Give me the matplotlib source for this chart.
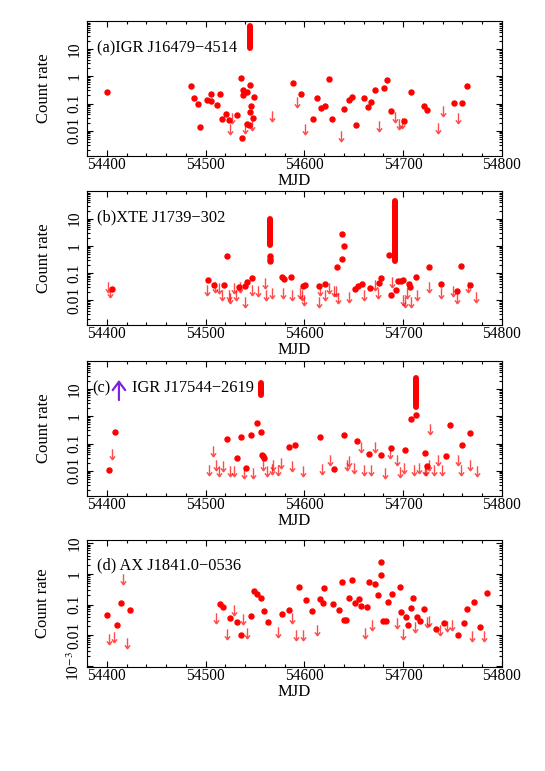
import matplotlib
matplotlib.use('Agg')
import matplotlib.pyplot as plt
from matplotlib.path import Path
from matplotlib.ticker import FixedLocator, LogLocator, NullFormatter, MultipleLocator

plt.rcParams['font.family'] = ['Liberation Serif', 'DejaVu Serif']
plt.rcParams['mathtext.fontset'] = 'stix'

# ---- panel (a) IGR J16479-4514 ----
a_det_x = [54400, 54485.3, 54488.4, 54492, 54494.8, 54501.5, 54506, 54506, 54511.6, 54514.7,
           54516.4, 54520.4, 54523.4, 54531.5, 54536, 54538, 54538.3, 54541.7, 54537, 54542.3,
           54544, 54545, 54545, 54546.4, 54548.4, 54549.4, 54588.9, 54596.3, 54608.8, 54612.8,
           54616.9, 54620.9, 54624.6, 54628.3, 54640.1, 54644.9, 54648.2, 54652.6, 54660.4, 54664.4,
           54667.8, 54671.8, 54680.3, 54684, 54687.7, 54700.5, 54707.6, 54720.7, 54724.1, 54751.4,
           54759.9, 54764.2]
a_det_y = [0.27, 0.42, 0.16, 0.094, 0.014, 0.13, 0.22, 0.12, 0.086, 0.22,
           0.027, 0.040, 0.024, 0.039, 0.84, 0.32, 0.20, 0.27, 0.0056, 0.018,
           0.017, 0.49, 0.049, 0.079, 0.030, 0.18, 0.57, 0.22, 0.028, 0.16,
           0.071, 0.079, 0.80, 0.027, 0.063, 0.14, 0.18, 0.017, 0.16, 0.075,
           0.11, 0.32, 0.38, 0.71, 0.055, 0.023, 0.27, 0.081, 0.060, 0.105,
           0.105, 0.44]
a_ul_x = [54527, 54525, 54540.3, 54547, 54567, 54593, 54600.7, 54636.8, 54675.9, 54692,
          54696, 54698.8, 54735.6, 54740.6, 54755.8]
a_ul_y = [0.030, 0.012, 0.013, 0.017, 0.036, 0.11, 0.012, 0.0066, 0.015, 0.033,
          0.018, 0.019, 0.013, 0.052, 0.030]
a_flare_x = [54545]
a_flare_lo = [11]
a_flare_hi = [70]

# ---- panel (b) XTE J1739-302 ----
b_det_x = [54405.7, 54502.9, 54508.3, 54518.4, 54522.1, 54533.6, 54540, 54542, 54546.7, 54564.9,
           54564.9, 54564.9, 54577.4, 54579.1, 54586.2, 54599, 54600.7, 54614.5, 54621.2, 54632.7,
           54638.4, 54638.4, 54640.5, 54651.6, 54654.6, 54658.3, 54666.4, 54675.2, 54677.6, 54686,
           54687.7, 54692.7, 54694.4, 54697.5, 54700.2, 54705.6, 54706.9, 54713.3, 54725.8, 54738.6,
           54754.5, 54758.5, 54767.3]
b_det_y = [0.025, 0.055, 0.036, 0.036, 0.43, 0.030, 0.032, 0.046, 0.065, 0.43,
           0.32, 0.28, 0.069, 0.061, 0.071, 0.034, 0.037, 0.033, 0.039, 0.16,
           0.32, 2.8, 0.97, 0.025, 0.034, 0.040, 0.027, 0.044, 0.065, 0.44,
           0.015, 0.023, 0.052, 0.052, 0.055, 0.039, 0.029, 0.073, 0.17, 0.039,
           0.021, 0.18, 0.035]
b_ul_x = [54401, 54403.4, 54501.2, 54509.6, 54514, 54516.7, 54523.4, 54524.8, 54528.5, 54531.2,
          54535.2, 54540.3, 54547, 54552.8, 54559.9, 54561.6, 54567.7, 54578.8, 54587.9, 54596,
          54598, 54599.3, 54614.5, 54616.2, 54620.6, 54625, 54630.4, 54632.4, 54634.4, 54645.5,
          54660.1, 54671.8, 54674.5, 54688.7, 54699.5, 54701.5, 54704.2, 54707.6, 54713.6, 54726.1,
          54737.9, 54750, 54754.8, 54765.9, 54774]
b_ul_y = [0.031, 0.020, 0.024, 0.031, 0.027, 0.015, 0.015, 0.012, 0.027, 0.015,
          0.030, 0.0088, 0.024, 0.022, 0.041, 0.015, 0.018, 0.018, 0.015, 0.018,
          0.015, 0.010, 0.0083, 0.024, 0.015, 0.027, 0.022, 0.021, 0.012, 0.013,
          0.015, 0.036, 0.018, 0.045, 0.010, 0.0083, 0.018, 0.0088, 0.015, 0.031,
          0.018, 0.022, 0.012, 0.031, 0.013]
b_flare_x = [54564.9, 54692.1]
b_flare_lo = [1.1, 0.27]
b_flare_hi = [10, 45]

# ---- panel (c) IGR J17544-2619 ----
c_det_x = [54402.4, 54408.8, 54521.4, 54531.5, 54535.9, 54541, 54545.7, 54552.1, 54556.5, 54556.8,
           54558.2, 54559.2, 54584.5, 54590.9, 54615.9, 54630, 54639.8, 54653.6, 54665.1, 54677.9,
           54687.7, 54702.2, 54707.6, 54713, 54722.1, 54723.8, 54743, 54747.1, 54759.5, 54767.3]
c_det_y = [0.011, 0.27, 0.15, 0.029, 0.17, 0.013, 0.20, 0.55, 0.27, 0.037,
           0.035, 0.030, 0.074, 0.085, 0.17, 0.012, 0.21, 0.12, 0.040, 0.039,
           0.069, 0.059, 0.80, 1.15, 0.046, 0.015, 0.036, 0.46, 0.085, 0.25]
c_ul_x = [54405, 54503.9, 54507.3, 54510.7, 54513.4, 54518.1, 54524.8, 54528.5, 54538.6, 54548.4,
          54558.5, 54562.6, 54567, 54568.7, 54573.7, 54576.7, 54587.9, 54598.3, 54618.2, 54625.9,
          54642.8, 54645.5, 54650.2, 54657.7, 54660.4, 54667.5, 54671.2, 54682, 54686.7, 54694.1,
          54696.8, 54700.8, 54710.9, 54715.7, 54721.8, 54723.4, 54726.1, 54727.2, 54731.3, 54735.6,
          54739.6, 54755.5, 54758.9, 54767.6, 54774.4]
c_ul_y = [0.043, 0.011, 0.052, 0.017, 0.0098, 0.015, 0.0098, 0.0098, 0.0085, 0.0085,
          0.017, 0.0098, 0.012, 0.016, 0.011, 0.020, 0.015, 0.0098, 0.012, 0.025,
          0.017, 0.023, 0.013, 0.075, 0.011, 0.011, 0.075, 0.0085, 0.046, 0.025,
          0.009, 0.013, 0.011, 0.013, 0.011, 0.011, 0.017, 0.35, 0.011, 0.025,
          0.011, 0.025, 0.011, 0.017, 0.0098]
c_flare_x = [54556.5, 54713]
c_flare_lo = [6.2, 2.2]
c_flare_hi = [17, 25]

# ---- panel (d) AX J1841.0-0536 ----
d_det_x = [54400, 54410.1, 54414.2, 54423.6, 54514.3, 54517.7, 54524.5, 54531.9, 54535.9, 54546,
           54549.1, 54552.1, 54556.2, 54559.5, 54563.6, 54577.4, 54584.5, 54594.3, 54601.7, 54608.1,
           54615.5, 54618.9, 54619.6, 54628.7, 54635.4, 54638.4, 54640.1, 54641.8, 54645.2, 54647.9,
           54651.6, 54655, 54657.7, 54663.1, 54665.8, 54671.8, 54674.9, 54677.2, 54677.2, 54679.3,
           54682.3, 54684.6, 54689, 54696.5, 54697.8, 54703.2, 54705.2, 54707.6, 54709.6, 54714,
           54716.7, 54721.1, 54733.2, 54741.3, 54755.5, 54761.6, 54764.6, 54771.7, 54777.7, 54785.2]
d_det_y = [0.047, 0.022, 0.11, 0.065, 0.105, 0.084, 0.037, 0.026, 0.010, 0.041,
           0.28, 0.22, 0.16, 0.063, 0.027, 0.049, 0.065, 0.38, 0.14, 0.063,
           0.15, 0.11, 0.35, 0.105, 0.067, 0.56, 0.031, 0.031, 0.17, 0.65,
           0.11, 0.15, 0.093, 0.080, 0.53, 0.48, 0.20, 0.93, 2.4, 0.028,
           0.028, 0.12, 0.22, 0.38, 0.057, 0.039, 0.021, 0.078, 0.16, 0.038,
           0.029, 0.070, 0.016, 0.024, 0.0098, 0.024, 0.070, 0.12, 0.018, 0.23]
d_ul_x = [54402.7, 54407.4, 54416.9, 54421, 54510.6, 54522.1, 54528.5, 54537.9, 54542.3, 54573.7,
          54587.9, 54591.6, 54598.3, 54612.8, 54661.4, 54668.5, 54693.8, 54700.2, 54712, 54724.1,
          54725.8, 54737.3, 54744.7, 54749.4, 54769.6, 54781.8]
d_ul_y = [0.0072, 0.0085, 0.69, 0.0053, 0.037, 0.011, 0.065, 0.033, 0.012, 0.013,
          0.037, 0.010, 0.0098, 0.015, 0.012, 0.021, 0.025, 0.011, 0.018, 0.026,
          0.029, 0.015, 0.020, 0.022, 0.0093, 0.0093]

labels = ['(a)IGR J16479\u22124514', '(b)XTE J1739\u2212302', 'IGR J17544\u22122619',
          '(d) AX J1841.0\u22120536']

# down-arrow marker for upper limits
arrow = Path([(0, 1), (0, -1), (-0.5, -0.35), (0, -1), (0.5, -0.35)],
             [Path.MOVETO, Path.LINETO, Path.MOVETO, Path.LINETO, Path.LINETO])

fig = plt.figure(figsize=(5.45, 7.71), dpi=100)
boxes = [[0.1596, 0.7977, 0.7615, 0.1751],
         [0.1596, 0.5785, 0.7615, 0.1738],
         [0.1596, 0.3567, 0.7615, 0.1751],
         [0.1596, 0.1349, 0.7615, 0.1647]]

panels = [(a_det_x, a_det_y, a_ul_x, a_ul_y, a_flare_x, a_flare_lo, a_flare_hi),
          (b_det_x, b_det_y, b_ul_x, b_ul_y, b_flare_x, b_flare_lo, b_flare_hi),
          (c_det_x, c_det_y, c_ul_x, c_ul_y, c_flare_x, c_flare_lo, c_flare_hi),
          (d_det_x, d_det_y, d_ul_x, d_ul_y, [], [], [])]

for i, (dx, dy, ux, uy, fx, flo, fhi) in enumerate(panels):
    ax = fig.add_axes(boxes[i])
    ax.set_yscale('log')
    for x, lo, hi in zip(fx, flo, fhi):
        ax.plot([x, x], [lo, hi], color='red', lw=4.3, solid_capstyle='round')
    ax.plot(ux, uy, ls='none', marker=arrow, ms=7.5, mfc='none', mec='red', mew=1.0, alpha=0.7)
    ax.plot(dx, dy, ls='none', marker='o', ms=3.6, color='red', mec='red')

    ax.set_xlim(54380, 54800)
    ax.xaxis.set_major_locator(MultipleLocator(100))
    ax.xaxis.set_minor_locator(MultipleLocator(20))
    if i < 3:
        ax.set_ylim(1.2e-3, 105)
        ax.yaxis.set_major_locator(FixedLocator([0.01, 0.1, 1, 10]))
        ax.set_yticklabels(['0.01', '0.1', '1', '10'])
    else:
        ax.set_ylim(9e-4, 13)
        ax.yaxis.set_major_locator(FixedLocator([1e-3, 0.01, 0.1, 1, 10]))
        ax.set_yticklabels(['10$^{-3}$', '0.01', '0.1', '1', '10'])
    ax.yaxis.set_minor_locator(LogLocator(base=10, subs=range(2, 10), numticks=20))
    ax.yaxis.set_minor_formatter(NullFormatter())
    ax.tick_params(which='both', direction='in', top=True, right=True, labelsize=11.2, width=0.8)
    ax.tick_params(which='major', length=4.5)
    ax.tick_params(which='minor', length=2.5)
    ax.tick_params(axis='x', pad=1)
    ax.tick_params(axis='y', labelrotation=90, pad=3)
    for t in ax.get_yticklabels():
        t.set_va('center')
    ax.set_xlabel('MJD', fontsize=12, labelpad=0)
    ax.set_ylabel('Count rate', fontsize=12, labelpad=11)

    if i == 2:
        ax.text(0.012, 0.80, '(c)', transform=ax.transAxes, fontsize=11.8, va='center')
        ax.annotate('', xy=(0.077, 0.88), xytext=(0.077, 0.69), xycoords='axes fraction',
                    arrowprops=dict(arrowstyle='->,head_length=0.6,head_width=0.45',
                                    color='#8020e0', lw=1.6))
        ax.text(0.108, 0.80, labels[i], transform=ax.transAxes, fontsize=11.8, va='center')
    else:
        ax.text(0.024, 0.80, labels[i], transform=ax.transAxes, fontsize=11.8, va='center')

fig.savefig('out.png', dpi=100)
